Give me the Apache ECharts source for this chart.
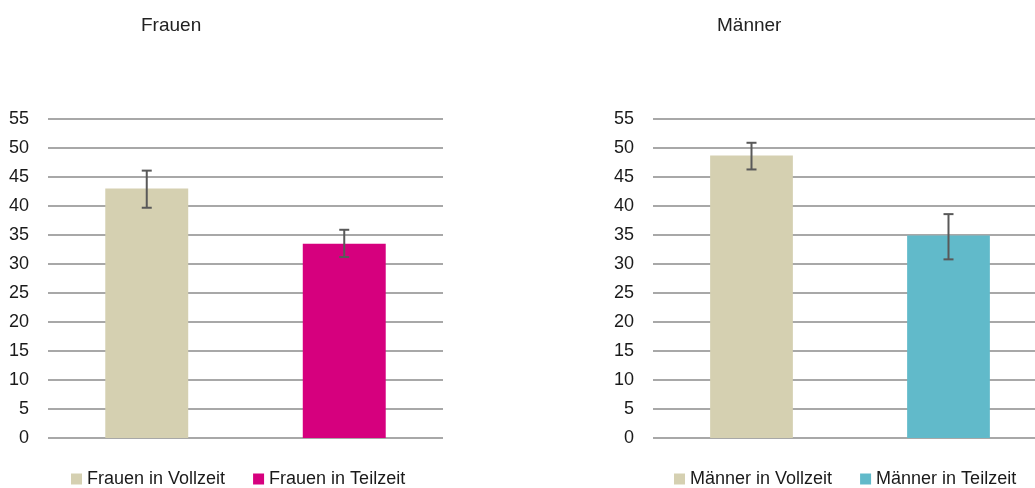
<!DOCTYPE html>
<html>
<head>
<meta charset="utf-8">
<script src="https://cdn.jsdelivr.net/npm/echarts@6/dist/echarts.min.js"></script>
<style>
  html, body { margin: 0; padding: 0; background: #fff; }
  #chart { width: 1035px; height: 488px; }
</style>
</head>
<body>
<div id="chart"></div>
<script>
const panels = ['Frauen', 'Männer']
const categories = ['Vollzeit', 'Teilzeit']
const yTicks = [0, 5, 10, 15, 20, 25, 30, 35, 40, 45, 50, 55]

// Frauen
const frauenNames = ['Frauen in Vollzeit', 'Frauen in Teilzeit']
const frauenValues = [43.0, 33.5]
const frauenLow = [39.7, 31.2]
const frauenHigh = [46.1, 35.9]

// Männer
const maennerNames = ['Männer in Vollzeit', 'Männer in Teilzeit']
const maennerValues = [48.7, 34.9]
const maennerLow = [46.3, 30.8]
const maennerHigh = [50.9, 38.6]

const colors = {
  voll: '#D5D0B1',
  frauenTeil: '#D6007E',
  maennerTeil: '#61BACA'
}
const TextColor = '#1a1a1a'
const font = 'Liberation Sans, Arial, sans-serif'

const chart = echarts.init(document.getElementById('chart'), null, { renderer: 'canvas' })

// Fehlerbalken (min/max) über den Säulen
const errorRender = (params, api) => {
  const x = api.value(0)
  const top = api.coord([x, api.value(2)])
  const bottom = api.coord([x, api.value(1)])
  const half = 5
  const style = { stroke: '#595959', lineWidth: 2 }
  return {
    type: 'group',
    children: [
      { type: 'line', shape: { x1: top[0], y1: top[1], x2: bottom[0], y2: bottom[1] }, style },
      { type: 'line', shape: { x1: top[0] - half, y1: top[1], x2: top[0] + half, y2: top[1] }, style },
      { type: 'line', shape: { x1: bottom[0] - half, y1: bottom[1], x2: bottom[0] + half, y2: bottom[1] }, style }
    ]
  }
}

const makeAxes = (gridIndex) => {
  return {
    x: {
      type: 'category',
      data: categories,
      gridIndex,
      axisLine: { show: false },
      axisTick: { show: false },
      axisLabel: { show: false }
    },
    y: {
      type: 'value',
      gridIndex,
      min: yTicks[0],
      max: yTicks[yTicks.length - 1],
      interval: 5,
      axisLine: { show: false },
      axisTick: { show: false },
      axisLabel: {
        color: TextColor,
        fontFamily: font,
        fontSize: 18,
        margin: 19
      },
      splitLine: { lineStyle: { color: '#A8A8A8', width: 2 } }
    }
  }
}

const left = makeAxes(0)
const right = makeAxes(1)

const barSeries = (name, idx, values, color, axisIndex, stack) => {
  const data = categories.map((_, i) => (i === idx ? values[i] : '-'))
  return {
    name,
    type: 'bar',
    stack,
    data,
    barWidth: '42%',
    xAxisIndex: axisIndex,
    yAxisIndex: axisIndex,
    itemStyle: { color },
    silent: true
  }
}

const legendStyle = {
  top: 470,
  padding: 0,
  icon: 'rect',
  itemWidth: 11,
  itemHeight: 11,
  itemGap: 28,
  textStyle: { color: TextColor, fontFamily: font, fontSize: 18 }
}

const titleStyle = { color: '#222', fontFamily: font, fontSize: 19, fontWeight: 'normal' }

const option = {
  animation: false,
  title: [
    { text: panels[0], left: 141, top: 16, padding: 0, textStyle: titleStyle },
    { text: panels[1], left: 717, top: 16, padding: 0, textStyle: titleStyle }
  ],
  grid: [
    { left: 48, width: 395, top: 119, height: 319, outerBoundsMode: 'none' },
    { left: 653, width: 394, top: 119, height: 319, outerBoundsMode: 'none' }
  ],
  legend: [
    Object.assign({ data: frauenNames, left: 71 }, legendStyle),
    Object.assign({ data: maennerNames, left: 674 }, legendStyle)
  ],
  xAxis: [left.x, right.x],
  yAxis: [left.y, right.y],
  series: [
    barSeries(frauenNames[0], 0, frauenValues, colors.voll, 0, 'f'),
    barSeries(frauenNames[1], 1, frauenValues, colors.frauenTeil, 0, 'f'),
    barSeries(maennerNames[0], 0, maennerValues, colors.voll, 1, 'm'),
    barSeries(maennerNames[1], 1, maennerValues, colors.maennerTeil, 1, 'm'),
    {
      type: 'custom',
      xAxisIndex: 0,
      yAxisIndex: 0,
      renderItem: errorRender,
      data: categories.map((_, i) => [i, frauenLow[i], frauenHigh[i]]),
      z: 10,
      silent: true
    },
    {
      type: 'custom',
      xAxisIndex: 1,
      yAxisIndex: 1,
      renderItem: errorRender,
      data: categories.map((_, i) => [i, maennerLow[i], maennerHigh[i]]),
      z: 10,
      silent: true
    }
  ]
}

chart.setOption(option)
window.addEventListener('resize', function () {
  chart.resize()
})
</script>
</body>
</html>
